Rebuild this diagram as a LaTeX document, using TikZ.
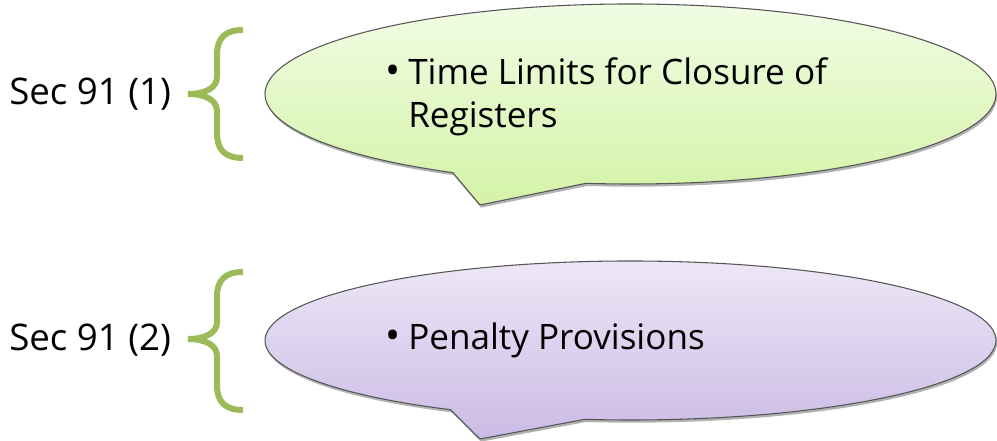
\documentclass[tikz,border=0pt]{standalone}
\usepackage{fontspec}
\setmainfont{Open Sans}
\usetikzlibrary{calc,shadows}
\definecolor{bracegreen}{HTML}{9BBB59}
\definecolor{gtop}{HTML}{F2FDE6}
\definecolor{gbot}{HTML}{D3F3A6}
\definecolor{ptop}{HTML}{EEE8F7}
\definecolor{pbot}{HTML}{CBBBE5}
\definecolor{outline}{HTML}{555555}
\tikzset{
  bracestyle/.style={draw=bracegreen,line width=4.5pt,line cap=butt},
  calloutstyle/.style={draw=outline,line width=0.8pt,line join=round,
    drop shadow={shadow xshift=0.8pt,shadow yshift=-2pt,opacity=0.3,fill=black}},
  lbl/.style={font=\fontsize{27.5}{32}\selectfont,inner sep=0pt,anchor=west},
  txt/.style={font=\fontsize{26.3}{32}\selectfont,inner sep=0pt,anchor=base west},
  bul/.style={font=\fontsize{30}{32}\selectfont,inner sep=0pt,anchor=base west}
}
\begin{document}
\begin{tikzpicture}[x=0.75pt,y=0.75pt]
\useasboundingbox (0,0) rectangle (997,441);
% top callout
\coordinate (c1) at (630.5,347);
\coordinate (tip1) at (480,236);
\path[calloutstyle,top color=gtop,bottom color=gbot]
  ($(c1)+(263:365.5 and 90)$) arc[start angle=263,end angle=600.9,x radius=365.5,y radius=90]
  -- (tip1) -- cycle;
% bottom callout
\coordinate (c2) at (630.5,100.5);
\coordinate (tip2) at (480,2);
\path[calloutstyle,top color=ptop,bottom color=pbot]
  ($(c2)+(262.8:365.5 and 79.5)$) arc[start angle=262.8,end angle=600.5,x radius=365.5,y radius=79.5]
  -- (tip2) -- cycle;
% braces
\draw[bracestyle] (243,411) .. controls (225,411) and (217,403) .. (217,386)
  -- (217,364) .. controls (217,353) and (205,347) .. (188,347)
  .. controls (205,347) and (217,341) .. (217,330)
  -- (217,308) .. controls (217,291) and (225,283) .. (243,283);
\draw[bracestyle] (243,169) .. controls (225,169) and (217,161) .. (217,144)
  -- (217,119) .. controls (217,108) and (205,102) .. (188,102)
  .. controls (205,102) and (217,96) .. (217,85)
  -- (217,56) .. controls (217,39) and (225,31) .. (243,31);
% labels
\node[lbl] (s1) at (9,347) {Sec 91 (1)};
\node[lbl] (s2) at (9,101) {Sec 91 (2)};
\node[bul] (b1) at (385,356) {•};
\node[txt] (t1a) at (408,356) {Time Limits for Closure of};
\node[txt] (t1b) at (408,313) {Registers};
\node[bul] (b2) at (385,91) {•};
\node[txt] (t2) at (408,91) {Penalty Provisions};
\end{tikzpicture}
\end{document}
